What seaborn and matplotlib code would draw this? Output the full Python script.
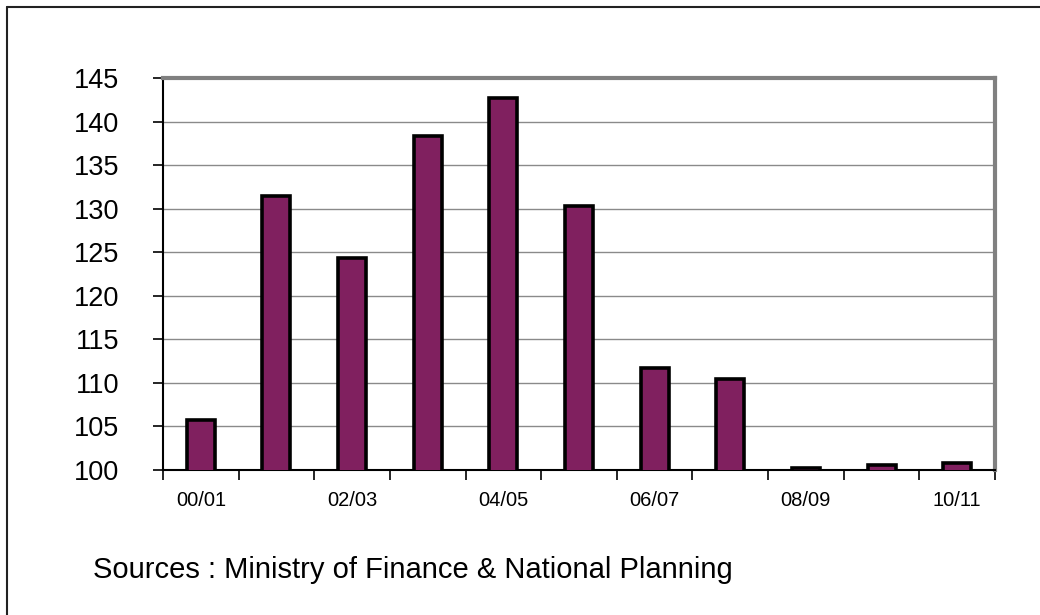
import numpy as np
import pandas as pd
import seaborn as sns
import matplotlib
matplotlib.use("Agg")
import matplotlib.pyplot as plt
from matplotlib.lines import Line2D

categories = ["00/01", "01/02", "02/03", "03/04", "04/05", "05/06",
              "06/07", "07/08", "08/09", "09/10", "10/11"]
values = [105.75, 131.45, 124.3, 138.35, 142.65, 130.25,
          111.75, 110.45, 100.25, 100.55, 100.8]
yticks = [100, 105, 110, 115, 120, 125, 130, 135, 140, 145]
shown_labels = ["00/01", "02/03", "04/05", "06/07", "08/09", "10/11"]
source_text = "Sources : Ministry of Finance & National Planning"

sns.set_theme(style="white")
plt.rcParams['font.family'] = ['Liberation Sans', 'DejaVu Sans']
plt.rcParams['text.color'] = 'black'
plt.rcParams['xtick.color'] = 'black'
plt.rcParams['ytick.color'] = 'black'
plt.rcParams['xtick.labelcolor'] = 'black'
plt.rcParams['ytick.labelcolor'] = 'black'

df = pd.DataFrame({"cat": categories, "val": values})

fig = plt.figure(figsize=(10.4, 6.15), dpi=100)
ax = fig.add_axes([163/1040, 1 - 470/615, (995-163)/1040, (470-78)/615])

sns.barplot(data=df, x="cat", y="val", ax=ax, color="#80205F", saturation=1,
            width=0.37, edgecolor="black", linewidth=2.6, zorder=3)

ax.set_ylim(100, 145)
ax.set_xlim(-0.5, len(categories) - 0.5)
ax.set_yticks(yticks)
ax.set_yticklabels([str(v) for v in yticks], fontsize=19.5, color="black")
ax.yaxis.grid(True, color="#8a8a8a", linewidth=1.0, zorder=0)
ax.set_axisbelow(True)

# major x ticks with labels at every other category
pos = [categories.index(c) for c in shown_labels]
ax.set_xticks(pos)
ax.set_xticklabels(shown_labels, fontsize=14.5, color="black")
ax.set_xticks(np.arange(-0.5, len(categories), 1), minor=True)
ax.tick_params(axis="x", which="major", length=0, pad=15)
ax.tick_params(axis="x", which="minor", length=7, width=1.2, color="black", direction="out", bottom=True)
ax.tick_params(axis="y", which="major", length=7.5, width=1.2, color="black", direction="out", left=True, pad=24)

ax.set_xlabel("")
ax.set_ylabel("")

for s in ["left", "bottom"]:
    ax.spines[s].set_color("black")
    ax.spines[s].set_linewidth(1.5)
for s in ["top", "right"]:
    ax.spines[s].set_visible(True)
    ax.spines[s].set_color("#808080")
    ax.spines[s].set_linewidth(3)

fig.text(93/1040, 1 - 570/615, source_text, fontsize=21, ha="left", va="center", color="black")

# outer frame (left and top edges visible)
fig.add_artist(Line2D([7/1040, 7/1040], [0, 1 - 7/615], transform=fig.transFigure, color="#222222", lw=1.5))
fig.add_artist(Line2D([7/1040, 1], [1 - 7/615, 1 - 7/615], transform=fig.transFigure, color="#222222", lw=1.5))

fig.savefig("out.png", dpi=100)
